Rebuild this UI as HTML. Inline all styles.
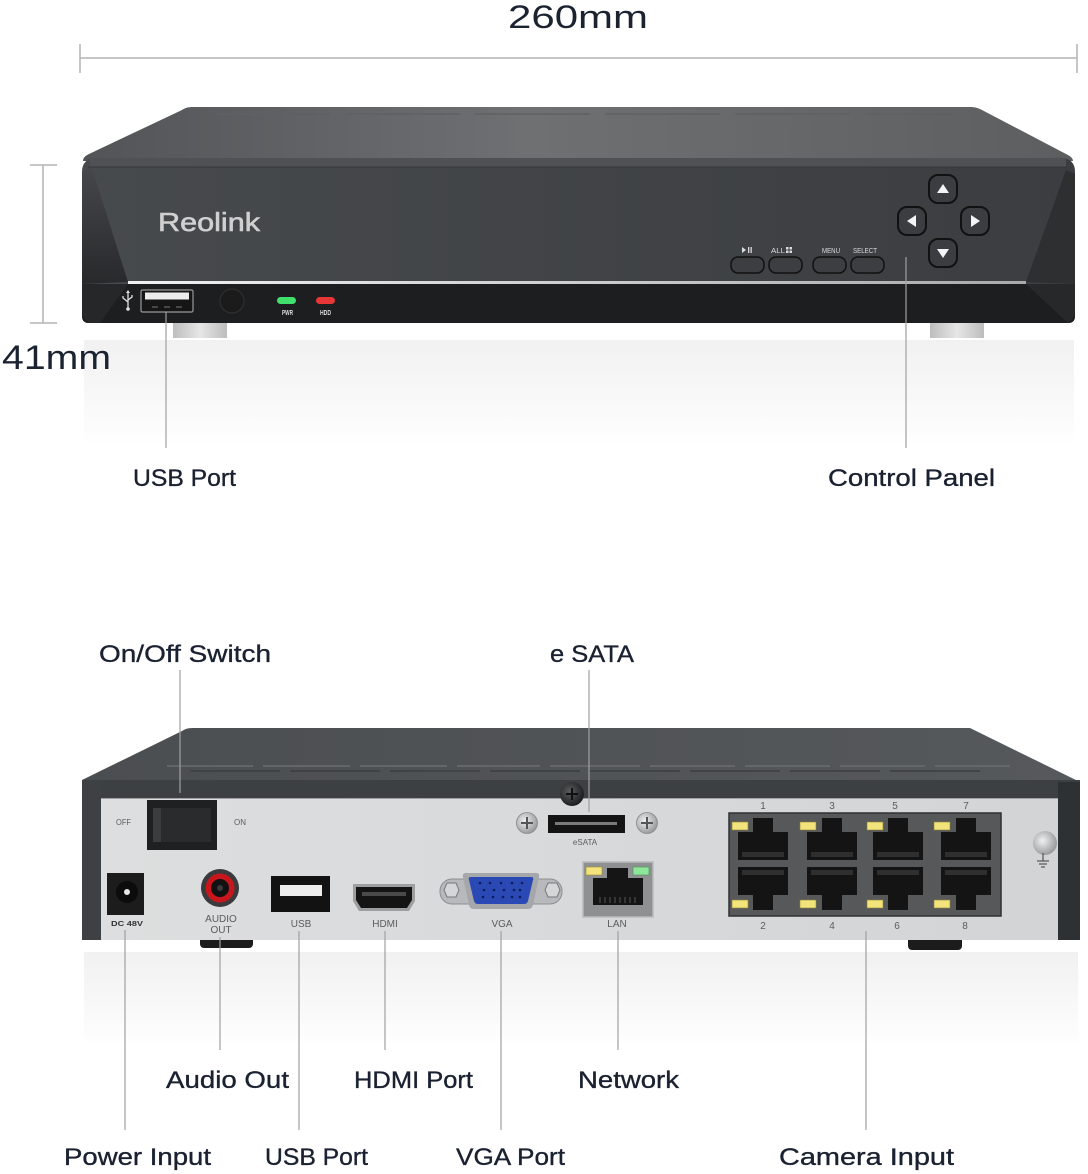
<!DOCTYPE html>
<html><head><meta charset="utf-8"><style>
html,body{margin:0;padding:0;background:#fff;}
svg{display:block;}
.lbl{font-family:"Liberation Sans",sans-serif;font-size:24px;fill:#1a2130;stroke:#1a2130;stroke-width:0.35;}
.sm{font-family:"Liberation Sans",sans-serif;fill:#5a5c5e;}
.ld{stroke:#a0a0a0;stroke-width:1.2;}
</style></head><body>
<svg width="1088" height="1174" viewBox="0 0 1088 1174" xmlns="http://www.w3.org/2000/svg">
<defs>
<linearGradient id="topF" x1="0" x2="1" y1="0" y2="0"><stop offset="0" stop-color="#525457"/><stop offset="0.45" stop-color="#6e7072"/><stop offset="1" stop-color="#5c5e60"/></linearGradient>
<linearGradient id="faceF" x1="0" x2="1" y1="0" y2="0"><stop offset="0" stop-color="#474a4d"/><stop offset="1" stop-color="#3b3d40"/></linearGradient>
<linearGradient id="bevL" x1="0" x2="0" y1="0" y2="1"><stop offset="0" stop-color="#45474a"/><stop offset="1" stop-color="#28292b"/></linearGradient>
<linearGradient id="silver" x1="0" x2="1"><stop offset="0" stop-color="#f2f2f2"/><stop offset="1" stop-color="#a9aaab"/></linearGradient>
<linearGradient id="refl" x1="0" x2="0" y1="0" y2="1"><stop offset="0" stop-color="#f1f1f1"/><stop offset="1" stop-color="#fefefe"/></linearGradient>
<linearGradient id="foot" x1="0" x2="1"><stop offset="0" stop-color="#bdbdbd"/><stop offset="0.5" stop-color="#e6e6e6"/><stop offset="1" stop-color="#bdbdbd"/></linearGradient>
<linearGradient id="topB" x1="0" x2="1"><stop offset="0" stop-color="#4b4e51"/><stop offset="1" stop-color="#56595c"/></linearGradient>
<linearGradient id="panel" x1="0" x2="1"><stop offset="0" stop-color="#dddedf"/><stop offset="1" stop-color="#d2d4d6"/></linearGradient>
<radialGradient id="screwL" cx="0.4" cy="0.4" r="0.6"><stop offset="0" stop-color="#f0f0f0"/><stop offset="1" stop-color="#9a9c9e"/></radialGradient>
<radialGradient id="screwD" cx="0.4" cy="0.4" r="0.6"><stop offset="0" stop-color="#5a5c5e"/><stop offset="1" stop-color="#1e1f20"/></radialGradient>
</defs>
<rect width="1088" height="1174" fill="#fff"/>

<!-- front reflection -->
<rect x="84" y="340" width="990" height="102" fill="url(#refl)"/>

<!-- dimensions -->
<text x="508" y="28" font-family="Liberation Sans" font-size="32" fill="#1b2331" textLength="140" lengthAdjust="spacingAndGlyphs">260mm</text>
<g stroke="#b3b3b3" stroke-width="1.5">
<line x1="80" y1="58" x2="1077" y2="58"/>
<line x1="80" y1="44" x2="80" y2="73"/>
<line x1="1077" y1="44" x2="1077" y2="73"/>
<line x1="43" y1="165" x2="43" y2="323"/>
<line x1="30" y1="165" x2="57" y2="165"/>
<line x1="30" y1="323" x2="57" y2="323"/>
</g>

<!-- FRONT DEVICE -->
<rect x="173" y="318" width="54" height="20" fill="url(#foot)"/>
<rect x="930" y="318" width="54" height="20" fill="url(#foot)"/>
<path d="M193,107 H970 C975,107 978,108 982,110 L1066,154 C1070,156 1073,158 1073,161 L83,161 C83,158 85,156 89,154 L182,110 C185,108 188,107 193,107 Z" fill="url(#topF)"/>
<g stroke="#5e6062" stroke-width="1.5">
<line x1="215" y1="114" x2="330" y2="114"/><line x1="345" y1="114" x2="460" y2="114"/><line x1="475" y1="114" x2="590" y2="114"/><line x1="605" y1="114" x2="720" y2="114"/><line x1="735" y1="114" x2="850" y2="114"/><line x1="865" y1="114" x2="950" y2="114"/>
</g>
<path d="M82,172 Q82,159 95,158 H1062 Q1075,159 1075,172 V316 Q1075,323 1068,323 H89 Q82,323 82,316 Z" fill="url(#faceF)"/>
<rect x="90" y="158" width="976" height="9" fill="#4f5154"/>
<line x1="88" y1="167" x2="1068" y2="167" stroke="#35373a" stroke-width="1"/>
<polygon points="82,172 92,168 128,282 82,284" fill="url(#bevL)"/>
<polygon points="1026,282 1066,170 1075,174 1075,284" fill="#2d2f31"/>
<path d="M82,284 H1075 V316 Q1075,323 1068,323 H89 Q82,323 82,316 Z" fill="#1d1e1f"/>
<polygon points="82,284 128,284 100,323 89,323 82,316" fill="#262729"/>
<polygon points="1026,284 1075,284 1075,316 1068,323" fill="#27282a"/>
<rect x="128" y="281" width="898" height="3" fill="url(#silver)"/>

<text x="158" y="231" font-family="Liberation Sans" font-size="26" fill="#d0d0d0" stroke="#d0d0d0" stroke-width="0.6" textLength="102" lengthAdjust="spacingAndGlyphs">Reolink</text>

<!-- usb icon -->
<g stroke="#e0e0e0" stroke-width="1.3" fill="none">
<line x1="128" y1="293" x2="128" y2="308"/>
<path d="M128,302 L123,298 V296"/><path d="M128,300 L132,297 V295"/>
</g>
<circle cx="128" cy="309" r="1.8" fill="#e0e0e0"/>
<polygon points="126,293 130,293 128,290" fill="#e0e0e0"/>
<rect x="141" y="290" width="52" height="22" rx="1.5" fill="#161616" stroke="#9a9a9a" stroke-width="1.2"/>
<rect x="145" y="292.5" width="44" height="7" fill="#ececec"/>
<g stroke="#777" stroke-width="1"><line x1="152" y1="307" x2="158" y2="307"/><line x1="164" y1="307" x2="170" y2="307"/><line x1="176" y1="307" x2="182" y2="307"/></g>
<circle cx="232" cy="301" r="12" fill="#1b1b1c" stroke="#2e2f30" stroke-width="1.2"/>
<rect x="277" y="297" width="19" height="7" rx="3.5" fill="#3fe06c"/>
<rect x="316" y="297" width="19" height="7" rx="3.5" fill="#e63636"/>
<text x="282" y="315" font-family="Liberation Sans" font-weight="bold" font-size="7" fill="#ddd" textLength="11" lengthAdjust="spacingAndGlyphs">PWR</text>
<text x="320" y="315" font-family="Liberation Sans" font-weight="bold" font-size="7" fill="#ddd" textLength="11" lengthAdjust="spacingAndGlyphs">HDD</text>

<!-- control buttons -->
<g stroke="#111" stroke-width="1.5" fill="#3c3e41">
<rect x="731" y="257" width="33" height="16" rx="7"/>
<rect x="769" y="257" width="33" height="16" rx="7"/>
<rect x="813" y="257" width="33" height="16" rx="7"/>
<rect x="851" y="257" width="33" height="16" rx="7"/>
</g>
<g fill="#dcdcdc">
<polygon points="742,247 742,253 746,250"/><rect x="748" y="247" width="1.3" height="6"/><rect x="750.5" y="247" width="1.3" height="6"/>
<rect x="786" y="247" width="2.5" height="2.5"/><rect x="789.5" y="247" width="2.5" height="2.5"/><rect x="786" y="250.5" width="2.5" height="2.5"/><rect x="789.5" y="250.5" width="2.5" height="2.5"/>
</g>
<text x="771" y="253" font-family="Liberation Sans" font-size="7" fill="#dcdcdc" textLength="14" lengthAdjust="spacingAndGlyphs">ALL</text>
<text x="822" y="253" font-family="Liberation Sans" font-size="7" fill="#dcdcdc" textLength="18" lengthAdjust="spacingAndGlyphs">MENU</text>
<text x="853" y="253" font-family="Liberation Sans" font-size="7" fill="#dcdcdc" textLength="24" lengthAdjust="spacingAndGlyphs">SELECT</text>
<g stroke="#111" stroke-width="2" fill="#3b3d40">
<rect x="929" y="175" width="28" height="28" rx="9"/>
<rect x="898" y="207" width="28" height="28" rx="9"/>
<rect x="961" y="207" width="28" height="28" rx="9"/>
<rect x="929" y="239" width="28" height="28" rx="9"/>
</g>
<g fill="#f4f4f4">
<polygon points="943,184 949,193 937,193"/>
<polygon points="907,221 916,215 916,227"/>
<polygon points="980,221 971,215 971,227"/>
<polygon points="943,258 949,249 937,249"/>
</g>

<!-- 41mm on top of everything -->
<text x="2" y="369" font-family="Liberation Sans" font-size="34" fill="#1b2331" textLength="109" lengthAdjust="spacingAndGlyphs">41mm</text>

<!-- front leaders + labels -->
<line class="ld" x1="166" y1="312" x2="166" y2="448"/>
<line class="ld" x1="906" y1="257" x2="906" y2="448"/>
<text class="lbl" x="133" y="486" textLength="103" lengthAdjust="spacingAndGlyphs">USB Port</text>
<text class="lbl" x="828" y="486" textLength="167" lengthAdjust="spacingAndGlyphs">Control Panel</text>

<!-- BACK DEVICE -->
<text class="lbl" x="99" y="662" textLength="172" lengthAdjust="spacingAndGlyphs">On/Off Switch</text>
<text class="lbl" x="550" y="662" textLength="84" lengthAdjust="spacingAndGlyphs">e SATA</text>

<rect x="84" y="952" width="994" height="92" fill="url(#refl)"/>
<rect x="200" y="936" width="53" height="12" rx="4" fill="#1c1c1d"/>
<rect x="908" y="936" width="54" height="14" rx="4" fill="#1c1c1d"/>

<path d="M192,728 H970 L1080,782 V784 H82 V780 L182,731 Q186,728 192,728 Z" fill="url(#topB)"/>
<g stroke-width="1.5">
<g stroke="#6a6d70"><line x1="167" y1="766" x2="253" y2="766"/><line x1="263" y1="766" x2="350" y2="766"/><line x1="360" y1="766" x2="447" y2="766"/><line x1="457" y1="766" x2="540" y2="766"/><line x1="550" y1="766" x2="640" y2="766"/><line x1="650" y1="766" x2="735" y2="766"/><line x1="745" y1="766" x2="830" y2="766"/><line x1="840" y1="766" x2="925" y2="766"/><line x1="935" y1="766" x2="1010" y2="766"/></g>
<g stroke="#3c3f42"><line x1="190" y1="771" x2="280" y2="771"/><line x1="290" y1="771" x2="380" y2="771"/><line x1="390" y1="771" x2="480" y2="771"/><line x1="490" y1="771" x2="580" y2="771"/><line x1="590" y1="771" x2="680" y2="771"/><line x1="690" y1="771" x2="780" y2="771"/><line x1="790" y1="771" x2="880" y2="771"/><line x1="890" y1="771" x2="980" y2="771"/></g>
</g>
<rect x="82" y="780" width="998" height="20" fill="#3d4043"/>
<rect x="82" y="780" width="19" height="160" fill="#3e4144"/>
<rect x="1058" y="782" width="22" height="158" fill="#2e3134"/>
<rect x="101" y="798" width="957" height="142" fill="url(#panel)"/>
<line x1="101" y1="798.5" x2="1058" y2="798.5" stroke="#9fa1a3" stroke-width="1"/>

<!-- switch -->
<rect x="147" y="800" width="70" height="50" fill="#1f2022"/>
<rect x="153" y="808" width="58" height="34" fill="#2a2b2d"/>
<rect x="153" y="808" width="8" height="34" fill="#3b3c3e"/>
<text class="sm" x="116" y="825" font-size="8" textLength="15" lengthAdjust="spacingAndGlyphs">OFF</text>
<text class="sm" x="234" y="825" font-size="8" textLength="12" lengthAdjust="spacingAndGlyphs">ON</text>

<!-- DC jack -->
<rect x="107" y="873" width="37" height="42" fill="#1c1c1d"/>
<circle cx="127" cy="892" r="11" fill="#0c0c0c"/>
<circle cx="127" cy="892" r="3" fill="#e6e6e6"/>
<text x="111" y="926" font-family="Liberation Sans" font-weight="bold" font-size="7.5" fill="#333" textLength="32" lengthAdjust="spacingAndGlyphs">DC  48V</text>

<!-- audio -->
<circle cx="220" cy="888" r="19" fill="#3a3b3d"/>
<circle cx="220" cy="888" r="14.5" fill="#c8161d"/>
<circle cx="220" cy="888" r="9" fill="#111"/>
<circle cx="220" cy="888" r="3" fill="#3a3a3a"/>
<text class="sm" x="221" y="922" font-size="10" text-anchor="middle">AUDIO</text>
<text class="sm" x="221" y="933" font-size="10" text-anchor="middle">OUT</text>

<!-- USB back -->
<rect x="271" y="876" width="59" height="36" fill="#121212"/>
<rect x="280" y="885" width="42" height="11" fill="#ededed"/>
<text class="sm" x="301" y="927" font-size="10" text-anchor="middle">USB</text>

<!-- HDMI -->
<path d="M353,884 H415 V901 L409,911 H359 L353,901 Z" fill="#9c9ea0"/>
<path d="M356,887 H412 V900 L407,908 H361 L356,900 Z" fill="#141414"/>
<rect x="362" y="892" width="44" height="4" fill="#4a4a4a"/>
<text class="sm" x="385" y="927" font-size="10" text-anchor="middle">HDMI</text>

<!-- VGA -->
<rect x="440" y="879" width="122" height="25" rx="12" fill="#b7b9bc" stroke="#8c8e91" stroke-width="1"/>
<polygon points="444,890 447,883 456,883 459,890 456,897 447,897" fill="#d4d6d8" stroke="#777" stroke-width="1"/>
<polygon points="545,890 548,883 557,883 560,890 557,897 548,897" fill="#d4d6d8" stroke="#777" stroke-width="1"/>
<path d="M466,873 H536 Q540,873 539,877 L533,905 Q532,909 528,909 H474 Q470,909 469,905 L463,877 Q462,873 466,873 Z" fill="#a5a7aa"/>
<path d="M471,877 H531 Q534,877 533,880 L528,901 Q527,904 524,904 H478 Q475,904 474,901 L469,880 Q468,877 471,877 Z" fill="#2b49b4"/>
<g fill="#0d1d5c">
<circle cx="480" cy="883" r="1.3"/><circle cx="490" cy="883" r="1.3"/><circle cx="501" cy="883" r="1.3"/><circle cx="512" cy="883" r="1.3"/><circle cx="522" cy="883" r="1.3"/>
<circle cx="484" cy="890" r="1.3"/><circle cx="494" cy="890" r="1.3"/><circle cx="504" cy="890" r="1.3"/><circle cx="514" cy="890" r="1.3"/><circle cx="520" cy="890" r="1.3"/>
<circle cx="483" cy="897" r="1.3"/><circle cx="493" cy="897" r="1.3"/><circle cx="503" cy="897" r="1.3"/><circle cx="512" cy="897" r="1.3"/><circle cx="520" cy="897" r="1.3"/>
</g>
<text class="sm" x="502" y="927" font-size="10" text-anchor="middle">VGA</text>

<!-- eSATA -->
<circle cx="572" cy="794" r="12" fill="url(#screwD)"/>
<g stroke="#111" stroke-width="2"><line x1="566" y1="794" x2="578" y2="794"/><line x1="572" y1="788" x2="572" y2="800"/></g>
<circle cx="527" cy="823" r="10.5" fill="url(#screwL)" stroke="#888" stroke-width="0.8"/>
<circle cx="647" cy="823" r="10.5" fill="url(#screwL)" stroke="#888" stroke-width="0.8"/>
<g stroke="#555" stroke-width="2"><line x1="521" y1="823" x2="533" y2="823"/><line x1="527" y1="817" x2="527" y2="829"/><line x1="641" y1="823" x2="653" y2="823"/><line x1="647" y1="817" x2="647" y2="829"/></g>
<rect x="548" y="815" width="77" height="18" fill="#141414"/>
<rect x="555" y="822" width="62" height="3" fill="#7a7a7a"/>
<text class="sm" x="585" y="845" font-size="8" text-anchor="middle">eSATA</text>

<!-- LAN -->
<rect x="583" y="862" width="70" height="55" fill="#8e9092" stroke="#b8babc" stroke-width="1.5"/>
<path d="M593,878 H607 V868 H628 V878 H643 V905 H593 Z" fill="#151515"/>
<g stroke="#555" stroke-width="1"><line x1="600" y1="897" x2="600" y2="903"/><line x1="605" y1="897" x2="605" y2="903"/><line x1="610" y1="897" x2="610" y2="903"/><line x1="615" y1="897" x2="615" y2="903"/><line x1="620" y1="897" x2="620" y2="903"/><line x1="625" y1="897" x2="625" y2="903"/><line x1="630" y1="897" x2="630" y2="903"/><line x1="635" y1="897" x2="635" y2="903"/></g>
<rect x="586" y="867" width="16" height="8" fill="#f2e37a" stroke="#9a8d3a" stroke-width="0.6"/>
<rect x="633" y="867" width="16" height="8" fill="#8ee69a" stroke="#4c8f55" stroke-width="0.6"/>
<text class="sm" x="617" y="927" font-size="10" text-anchor="middle">LAN</text>

<!-- camera ports -->
<rect x="729" y="813" width="272" height="103" fill="#56585a" stroke="#2f3032" stroke-width="1.5"/>
<g fill="#141414">
<path d="M738,832 H753 V818 H773 V832 H788 V860 H738 Z"/>
<path d="M807,832 H822 V818 H842 V832 H857 V860 H807 Z"/>
<path d="M873,832 H888 V818 H908 V832 H923 V860 H873 Z"/>
<path d="M941,832 H956 V818 H976 V832 H991 V860 H941 Z"/>
<path d="M738,867 H788 V895 H773 V910 H753 V895 H738 Z"/>
<path d="M807,867 H857 V895 H842 V910 H822 V895 H807 Z"/>
<path d="M873,867 H923 V895 H908 V910 H888 V895 H873 Z"/>
<path d="M941,867 H991 V895 H976 V910 H956 V895 H941 Z"/>
</g>
<g fill="#2f2f2f">
<rect x="742" y="852" width="42" height="5"/><rect x="811" y="852" width="42" height="5"/><rect x="877" y="852" width="42" height="5"/><rect x="945" y="852" width="42" height="5"/>
<rect x="742" y="870" width="42" height="5"/><rect x="811" y="870" width="42" height="5"/><rect x="877" y="870" width="42" height="5"/><rect x="945" y="870" width="42" height="5"/>
</g>
<g fill="#f2e37a" stroke="#8f8437" stroke-width="0.6">
<rect x="732" y="822" width="16" height="8"/><rect x="800" y="822" width="16" height="8"/><rect x="867" y="822" width="16" height="8"/><rect x="934" y="822" width="16" height="8"/>
<rect x="732" y="900" width="16" height="8"/><rect x="800" y="900" width="16" height="8"/><rect x="867" y="900" width="16" height="8"/><rect x="934" y="900" width="16" height="8"/>
</g>
<g class="sm" font-size="10" text-anchor="middle">
<text x="763" y="809">1</text><text x="832" y="809">3</text><text x="895" y="809">5</text><text x="966" y="809">7</text>
<text x="763" y="929">2</text><text x="832" y="929">4</text><text x="897" y="929">6</text><text x="965" y="929">8</text>
</g>

<!-- ground -->
<circle cx="1045" cy="843" r="12" fill="url(#screwL)"/>
<g stroke="#555" stroke-width="1.2"><line x1="1043" y1="853" x2="1043" y2="861"/><line x1="1037" y1="861" x2="1049" y2="861"/><line x1="1039" y1="864" x2="1047" y2="864"/><line x1="1041" y1="867" x2="1045" y2="867"/></g>

<!-- back leaders -->
<line class="ld" x1="180" y1="670" x2="180" y2="793"/>
<line class="ld" x1="589" y1="670" x2="589" y2="812"/>
<line class="ld" x1="125" y1="930" x2="125" y2="1130"/>
<line class="ld" x1="220" y1="937" x2="220" y2="1050"/>
<line class="ld" x1="299" y1="931" x2="299" y2="1130"/>
<line class="ld" x1="385" y1="931" x2="385" y2="1050"/>
<line class="ld" x1="501" y1="931" x2="501" y2="1130"/>
<line class="ld" x1="618" y1="931" x2="618" y2="1050"/>
<line class="ld" x1="866" y1="931" x2="866" y2="1130"/>

<text class="lbl" x="166" y="1088" textLength="123" lengthAdjust="spacingAndGlyphs">Audio Out</text>
<text class="lbl" x="354" y="1088" textLength="119" lengthAdjust="spacingAndGlyphs">HDMI Port</text>
<text class="lbl" x="578" y="1088" textLength="101" lengthAdjust="spacingAndGlyphs">Network</text>
<text class="lbl" x="64" y="1165" textLength="147" lengthAdjust="spacingAndGlyphs">Power Input</text>
<text class="lbl" x="265" y="1165" textLength="103" lengthAdjust="spacingAndGlyphs">USB Port</text>
<text class="lbl" x="456" y="1165" textLength="109" lengthAdjust="spacingAndGlyphs">VGA Port</text>
<text class="lbl" x="779" y="1165" textLength="175" lengthAdjust="spacingAndGlyphs">Camera Input</text>
</svg>
</body></html>
